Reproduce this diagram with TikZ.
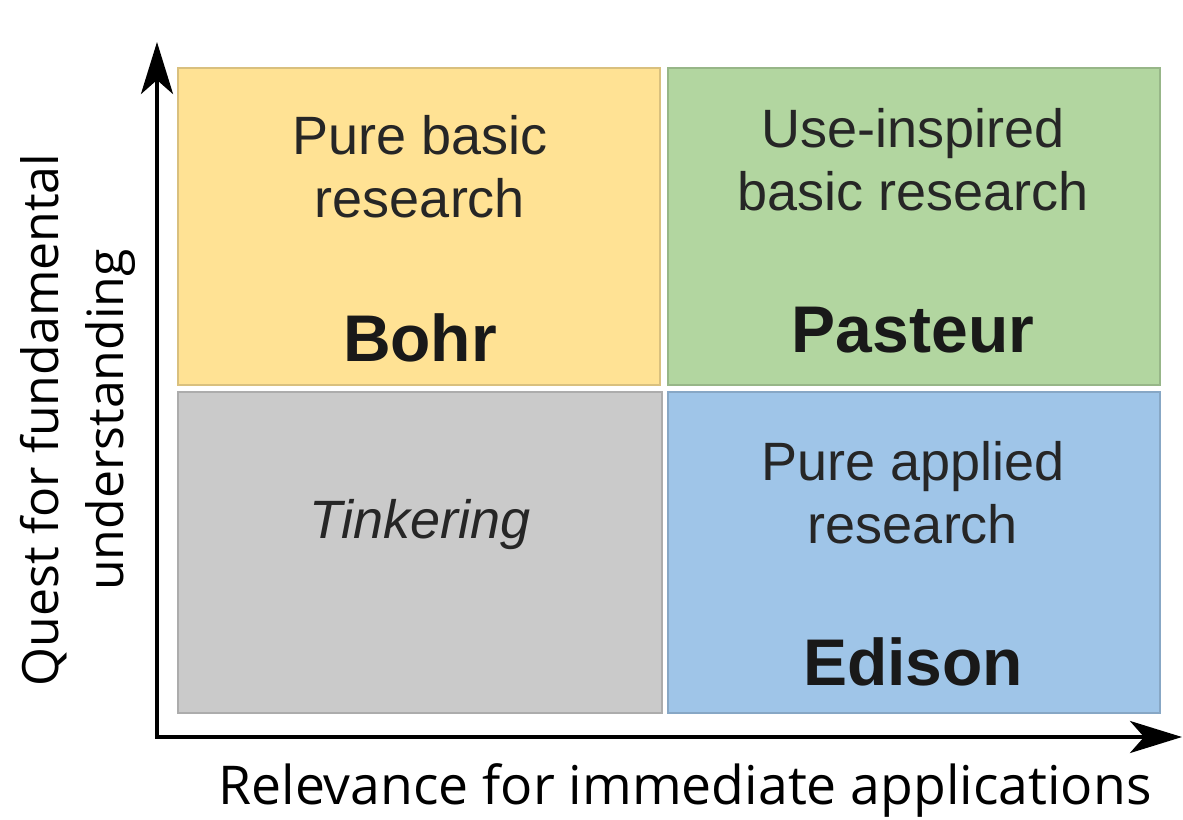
\documentclass[tikz,border=0pt]{standalone}
\usepackage{fontspec}
\setmainfont{Liberation Sans}
\newfontfamily\axisfont{Open Sans}
\usetikzlibrary{arrows.meta}

\definecolor{boxyellow}{HTML}{FFE294}
\definecolor{boxgreen}{HTML}{B2D6A0}
\definecolor{boxgray}{HTML}{CACACA}
\definecolor{boxblue}{HTML}{9FC5E8}

\tikzset{
  quad/.style = {rectangle, inner sep = 0, line width = 1.2pt},
  qtext/.style = {align = center, text = black!85, font = \fontsize{54}{63}\selectfont},
  qname/.style = {text = black!90, font = \fontsize{66}{70}\selectfont\bfseries},
  axis/.style = {line width = 4pt, -{Stealth[length = 52pt, width = 32pt, inset = 14pt]}},
  axislabel/.style = {align = center, font = \axisfont\fontsize{50}{65}\selectfont}
}

\begin{document}
\begin{tikzpicture}[x = 1pt, y = -1pt]
\useasboundingbox (0, 0) rectangle (1183, 819);
\node[quad, fill = boxyellow, draw = boxyellow!85!black, minimum width = 482, minimum height = 317] (bohrbox) at (419, 226.5) {};
\node[quad, fill = boxgreen, draw = boxgreen!85!black, minimum width = 492, minimum height = 317] (pasteurbox) at (914, 226.5) {};
\node[quad, fill = boxgray, draw = boxgray!85!black, minimum width = 484, minimum height = 321] (tinkerbox) at (420, 552.5) {};
\node[quad, fill = boxblue, draw = boxblue!85!black, minimum width = 492, minimum height = 321] (edisonbox) at (914, 552.5) {};

\node[qtext] (purebasic) at (420, 167) {Pure basic\\research};
\node[qname] (bohr) at (420, 338) {Bohr};
\node[qtext] (useinspired) at (913, 160) {Use-inspired\\basic research};
\node[qname] (pasteur) at (913, 330) {Pasteur};
\node[qtext, font = \fontsize{54}{63}\selectfont\itshape] (tinkering) at (420, 525) {Tinkering};
\node[qtext] (pureapplied) at (913, 493) {Pure applied\\research};
\node[qname] (edison) at (913, 662) {Edison};

\coordinate (origin) at (157, 737);
\coordinate (ytip) at (157, 42);
\coordinate (xtip) at (1182, 737);
\draw[axis] ([yshift = 2pt] origin) -- (ytip);
\draw[axis] ([xshift = -2pt] origin) -- (xtip);

\node[axislabel, font = \axisfont\fontsize{53.5}{65}\selectfont] (xlabel) at (685, 790) {Relevance for immediate applications};
\node[axislabel, rotate = 90] (ylabel) at (78, 420) {Quest for fundamental\\understanding};
\end{tikzpicture}
\end{document}
